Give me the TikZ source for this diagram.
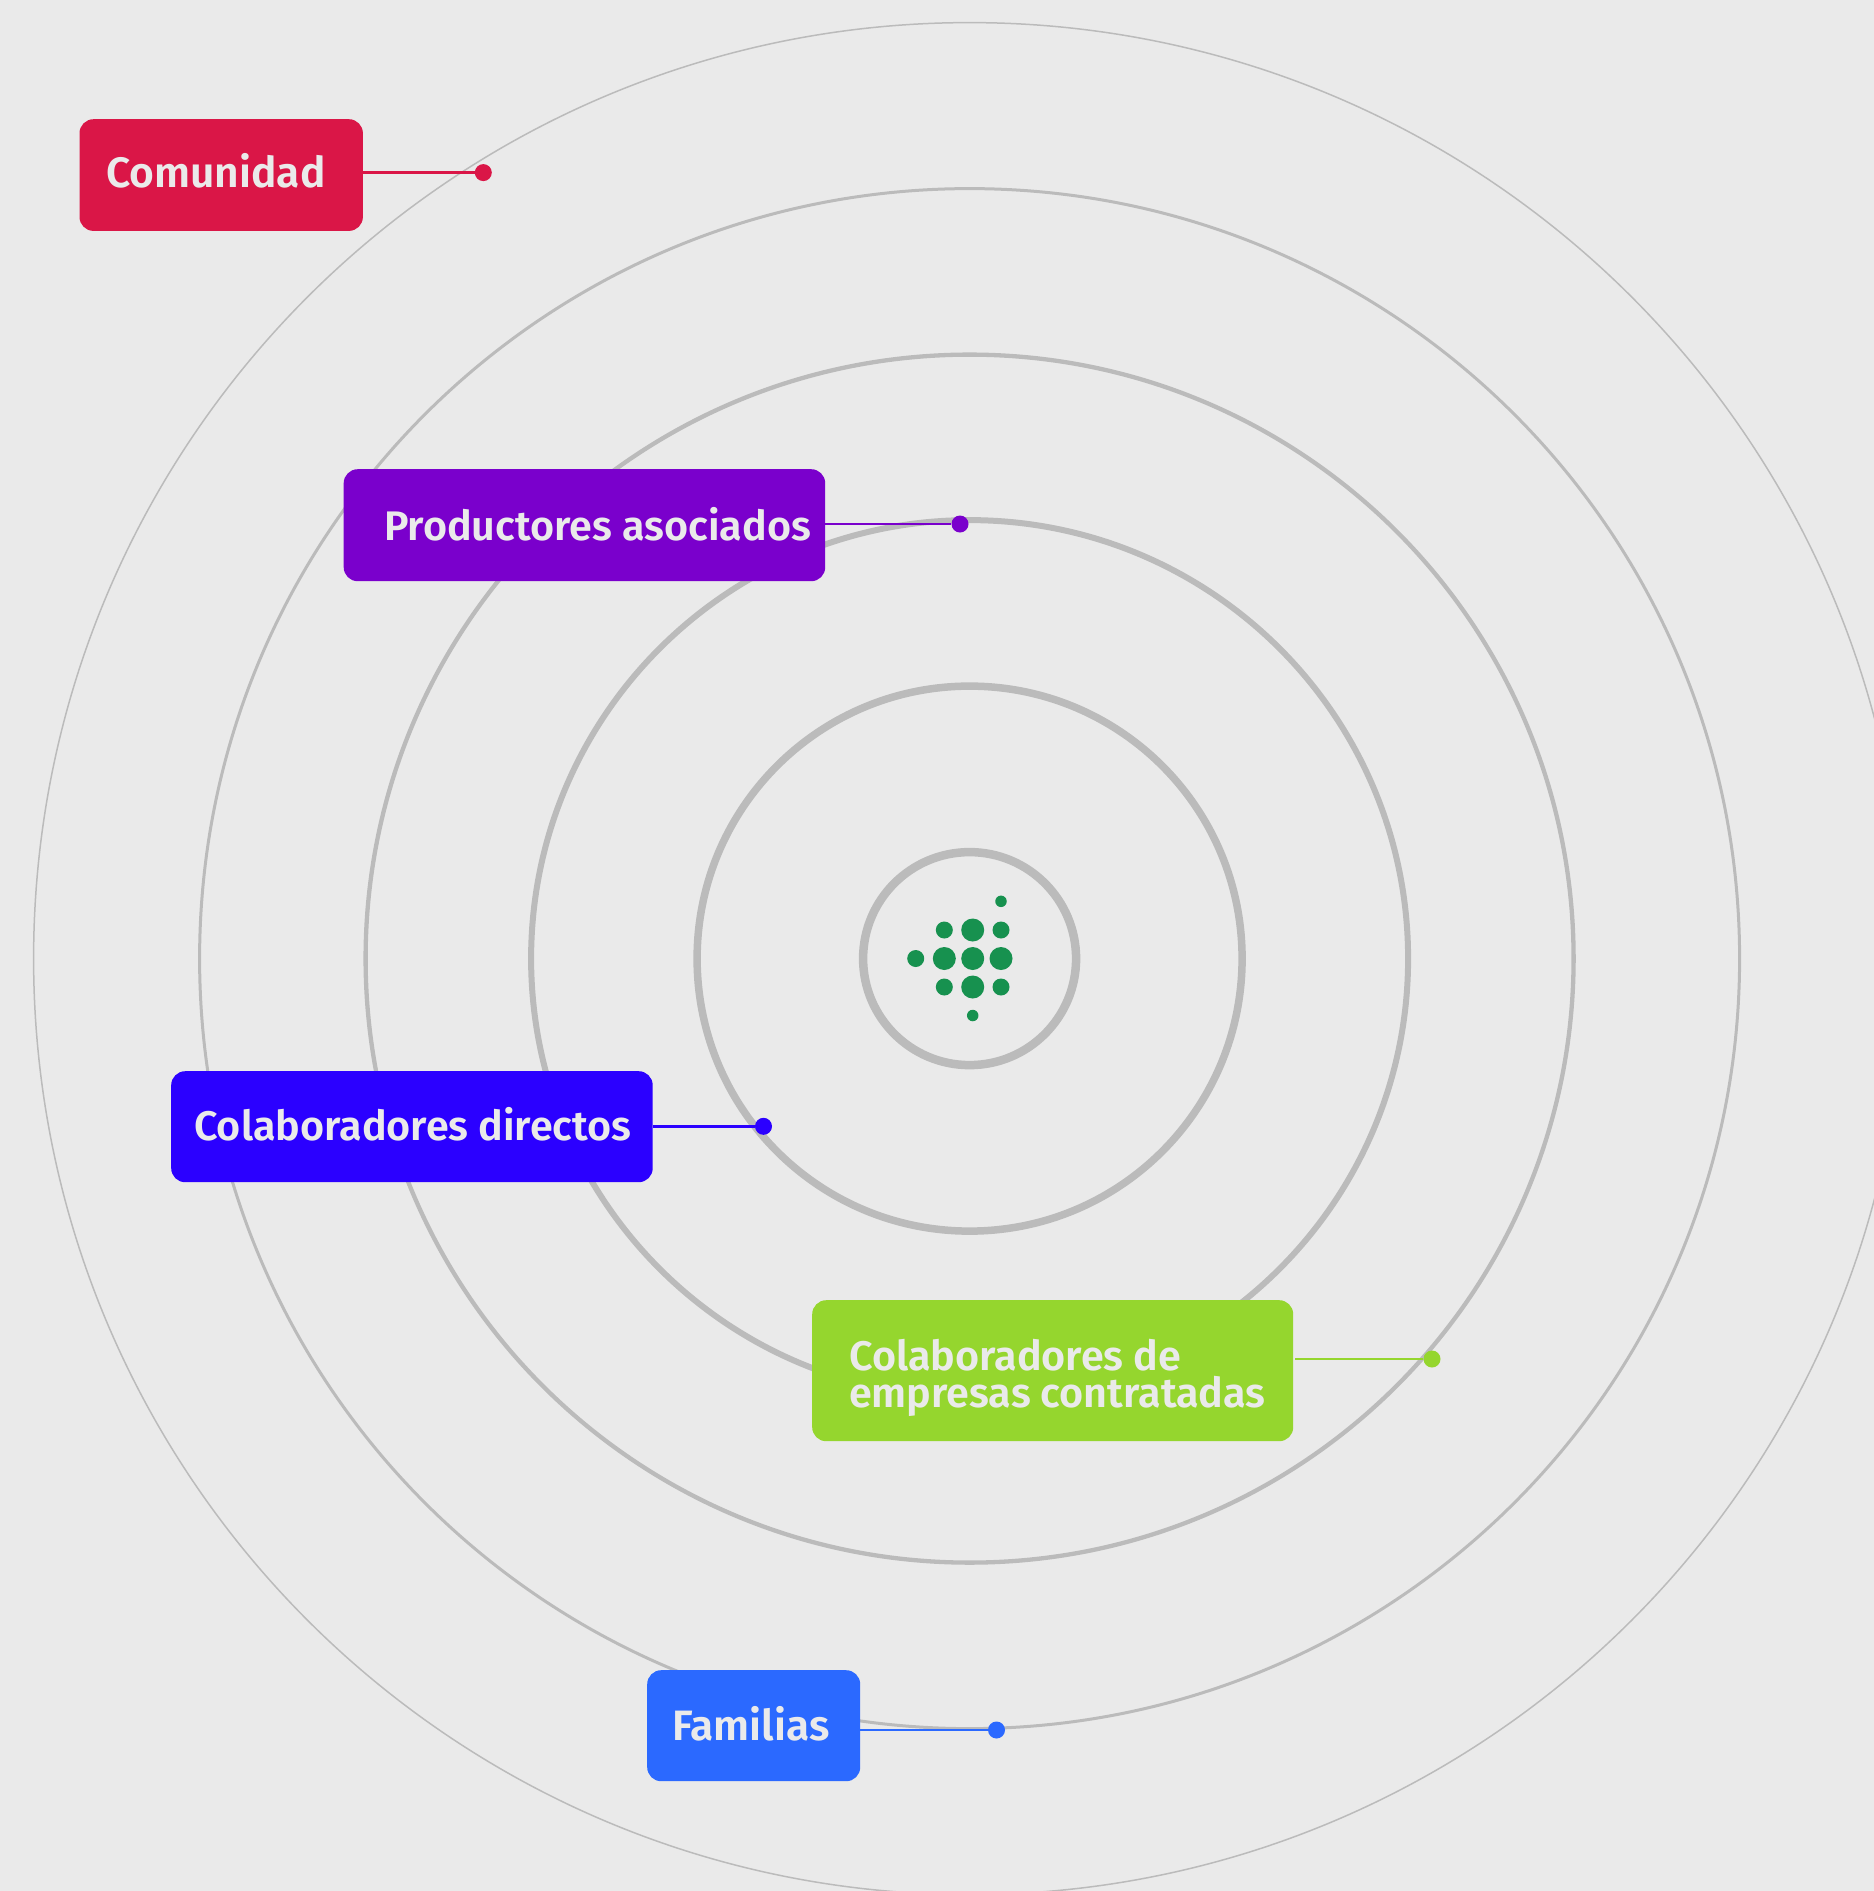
\documentclass[tikz,border=0pt]{standalone}
\usepackage{fontspec}
\setmainfont{Fira Sans}[UprightFont=* SemiBold]
\definecolor{bgc}{HTML}{EAEAEA}
\definecolor{ringc}{HTML}{BBBBBB}
\definecolor{dotc}{HTML}{17914F}
\definecolor{redc}{HTML}{DA1647}
\definecolor{purc}{HTML}{7A00CC}
\definecolor{bluc}{HTML}{2B00FF}
\definecolor{grec}{HTML}{95D62E}
\definecolor{lbc}{HTML}{2B69FF}
\tikzset{
  ring/.style={draw=ringc,line width=#1},
  gd/.style={circle,fill=dotc,inner sep=0pt,minimum size=#1},
  tagbox/.style={fill=#1,rounded corners=14pt,inner sep=0pt,anchor=north west},
  tagtxt/.style={anchor=base west,inner sep=0pt,text=bgc,font=\fontsize{41.3}{37}\selectfont},
  bigtxt/.style={tagtxt,font=\fontsize{42.5}{37}\selectfont},
  enddot/.style={circle,fill=#1,inner sep=0pt,minimum size=17pt},
  link/.style={draw=#1,line width=2.4pt}
}
\begin{document}
\begin{tikzpicture}[x=1pt,y=-1pt]
\useasboundingbox (0,0) rectangle (1874,1891);
\fill[bgc] (0,0) rectangle (1874,1891);
\clip (0,0) rectangle (1874,1891);
\coordinate (c) at (969.6,958.6);
\draw[ring=8.5pt] (c) circle[radius=106.5];
\draw[ring=7.5pt] (c) circle[radius=272.5];
\draw[ring=6pt] (c) circle[radius=438.5];
\draw[ring=4.3pt] (c) circle[radius=604];
\draw[ring=3pt] (c) circle[radius=770];
\draw[ring=1.5pt] (c) circle[radius=936];
% green dots
\node[gd=11.5pt] (g1) at (1001,901.3) {};
\node[gd=17pt] (g2) at (944.3,930) {};
\node[gd=23pt] (g3) at (972.7,930) {};
\node[gd=17pt] (g4) at (1001,930) {};
\node[gd=17pt] (g5) at (915.7,958.5) {};
\node[gd=23pt] (g6) at (944.3,958.5) {};
\node[gd=23pt] (g7) at (972.7,958.5) {};
\node[gd=23pt] (g8) at (1001,958.5) {};
\node[gd=17pt] (g9) at (944.3,987) {};
\node[gd=23pt] (g10) at (972.7,987) {};
\node[gd=17pt] (g11) at (1001,987) {};
\node[gd=11.5pt] (g12) at (972.7,1015.5) {};
% boxes
\node[tagbox=redc,minimum width=283.4pt,minimum height=111.7pt] (b1) at (79.3,119) {};
\node[tagbox=purc,minimum width=481.5pt,minimum height=112pt] (b2) at (343.5,469) {};
\node[tagbox=bluc,minimum width=481.5pt,minimum height=111pt] (b3) at (171,1071) {};
\node[tagbox=grec,minimum width=481pt,minimum height=141pt] (b4) at (812,1300) {};
\node[tagbox=lbc,minimum width=213pt,minimum height=111pt] (b5) at (647,1670) {};
% end dots
\node[enddot=redc] (d1) at (483.3,172.6) {};
\node[enddot=purc] (d2) at (960,524) {};
\node[enddot=bluc] (d3) at (763.5,1126.3) {};
\node[enddot=grec] (d4) at (1432,1359) {};
\node[enddot=lbc] (d5) at (996.5,1730) {};
% links
\draw[link=redc] (b1.east |- d1) -- (d1);
\draw[link=purc] (b2.east |- d2) -- (d2);
\draw[link=bluc] (b3.east |- d3) -- (d3);
\draw[link=grec] ([xshift=2pt]b4.east |- d4) -- (d4);
\draw[link=lbc] (b5.east |- d5) -- (d5);
% text
\node[bigtxt] (t1) at (106,187) {Comunidad};
\node[tagtxt] (t2) at (384,540) {Productores asociados};
\node[tagtxt] (t3) at (194,1140) {Colaboradores directos};
\node[tagtxt,align=left] (t4) at (849,1407) {Colaboradores de\\empresas contratadas};
\node[bigtxt] (t5) at (672,1740) {Familias};
\end{tikzpicture}
\end{document}
